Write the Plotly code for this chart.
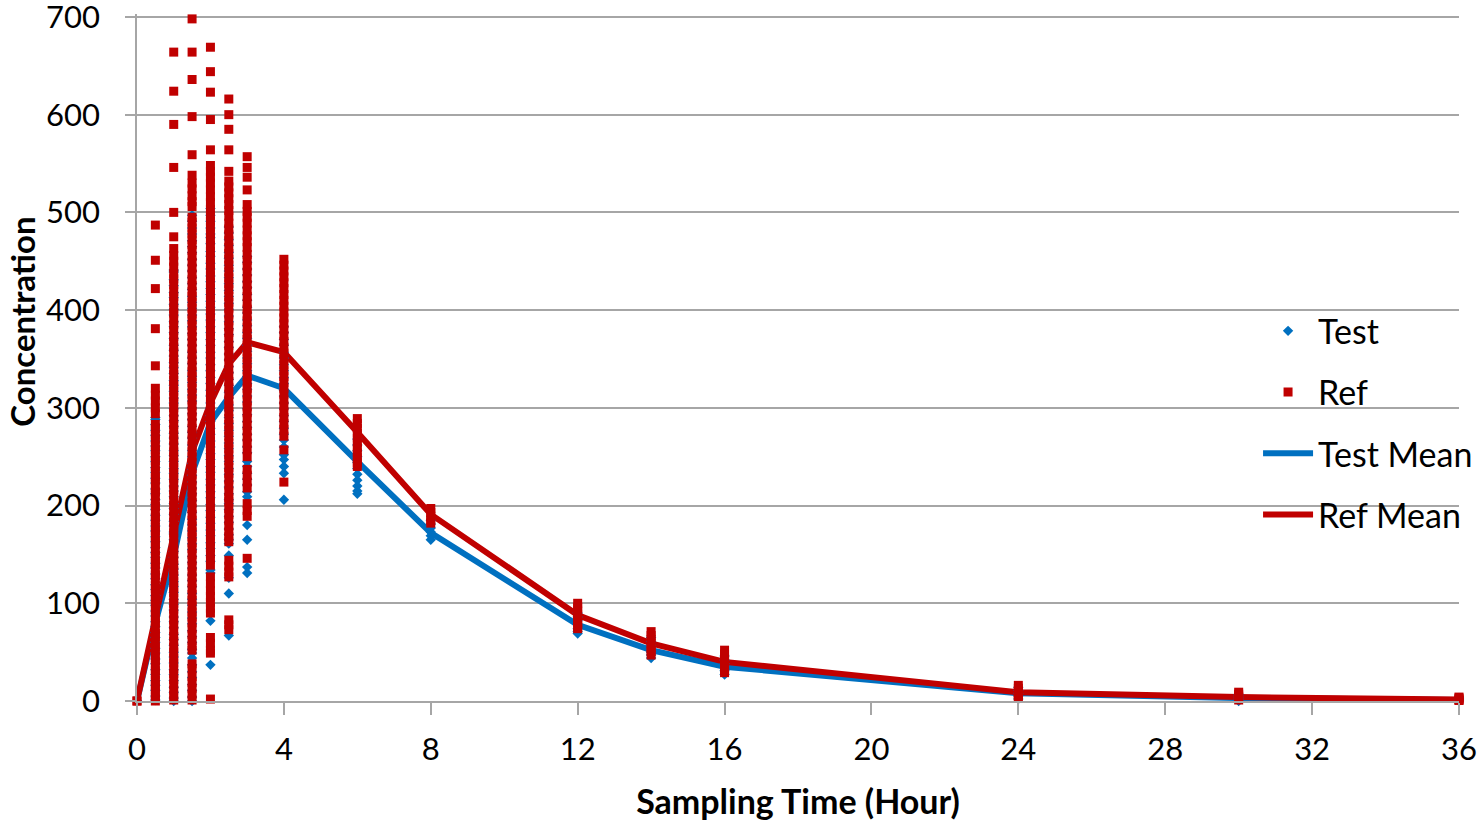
import plotly.graph_objects as go

# ---------------- data ----------------
times = [0, 0.5, 1, 1.5, 2, 2.5, 3, 4, 6, 8, 12, 14, 16, 24, 30, 36]

test_mean = [0, 80, 148, 233, 285, 311, 333, 320, 245, 172, 78, 52, 35, 8, 3, 1]
ref_mean = [0, 85, 172, 255, 305, 345, 367, 357, 275, 191, 88, 59, 40, 9, 4, 1.5]

test_h0 = [0, 0]
test_h05 = [290, 288, 283, 277, 272, 266, 261, 256, 250, 245, 239, 234, 228, 223, 217, 212, 206, 201, 196, 190,
            185, 179, 174, 168, 163, 157, 152, 147, 141, 136, 130, 125, 119, 114, 108, 103, 98, 92, 87, 81,
            76, 70, 65, 60, 54, 49, 43, 38, 32, 27, 21, 16, 11, 5, 1]
test_h1 = [441, 439, 431, 425, 418, 413, 406, 401, 395, 388, 383, 377, 371, 364, 359, 353, 346, 341, 335, 328,
           323, 317, 310, 305, 299, 292, 287, 281, 274, 269, 263, 256, 251, 245, 238, 233, 227, 220, 215, 209,
           202, 197, 191, 184, 179, 173, 171, 165, 158, 153, 147, 140, 135, 129, 122, 117, 111, 104, 99, 93,
           86, 81, 75, 68, 63, 57, 50, 45, 39, 32, 27, 21, 14, 9, 3, 0]
test_h15 = [497, 491, 484, 478, 471, 465, 459, 452, 446, 440, 433, 427, 421, 414, 408, 402, 395, 389, 383, 376,
            370, 364, 357, 351, 345, 338, 332, 326, 319, 313, 307, 300, 294, 288, 281, 275, 269, 262, 256, 250,
            243, 237, 231, 224, 218, 212, 205, 199, 193, 186, 180, 174, 167, 161, 155, 148, 142, 136, 129, 123,
            117, 110, 104, 98, 91, 85, 79, 72, 66, 60, 53, 49, 44, 37, 30, 24, 17, 11, 4, 0]
test_h2 = [504, 497, 491, 484, 478, 474, 468, 460, 455, 448, 442, 435, 429, 422, 416, 409, 403, 396, 390, 383,
           377, 370, 364, 357, 351, 344, 338, 331, 325, 318, 312, 305, 299, 292, 286, 279, 273, 266, 260, 253,
           247, 240, 234, 227, 221, 214, 208, 201, 195, 188, 182, 175, 169, 162, 156, 149, 143, 134, 131, 82, 37]
test_h25 = [485, 479, 472, 466, 459, 453, 446, 440, 433, 427, 420, 414, 407, 401, 394, 388, 381, 375, 368, 362,
            355, 349, 342, 336, 329, 323, 316, 310, 303, 297, 290, 284, 277, 271, 264, 258, 251, 245, 238, 232,
            225, 219, 212, 206, 202, 196, 189, 183, 176, 170, 165, 161, 149, 126, 110, 67]
test_h3 = [455, 449, 442, 436, 429, 423, 416, 410, 403, 397, 390, 384, 377, 371, 364, 358, 351, 345, 338, 332,
           325, 319, 312, 306, 299, 293, 286, 280, 273, 267, 260, 254, 245, 240, 233, 227, 221, 214, 209, 180,
           165, 137, 131]
test_h4 = [383, 377, 370, 364, 357, 351, 344, 338, 331, 325, 318, 312, 305, 299, 292, 286, 279, 273, 267, 260,
           252, 247, 240, 233, 206]
test_h6 = [268, 262, 256, 250, 244, 238, 232, 226, 220, 215, 212]
test_h8 = [185, 181, 177, 173, 169, 165]
test_h12 = [90, 86, 82, 78, 74, 71, 69]
test_h14 = [65, 61, 57, 53, 50, 47, 44]
test_h16 = [46, 42, 38, 34, 31, 27]
test_h24 = [14, 11, 8, 5, 2]
test_h30 = [7, 5, 3, 1, 0]
test_h36 = [3, 2, 1, 0]

ref_h0 = [0, 0]
ref_h05 = [487, 451, 422, 381, 343, 320, 313, 307, 300, 294, 283, 279, 272, 268, 261, 257, 250, 246, 240, 235,
           229, 226, 219, 214, 210, 203, 199, 194, 188, 185, 178, 174, 169, 163, 160, 154, 149, 143, 140, 134,
           129, 125, 118, 115, 109, 104, 100, 94, 90, 84, 80, 75, 69, 66, 60, 55, 51, 45, 41, 36,
           31, 27, 21, 17, 12, 8, 3, 0]
ref_h1 = [664, 624, 590, 546, 500, 475, 463, 456, 450, 444, 437, 432, 426, 419, 414, 408, 401, 397, 390, 385,
          379, 373, 368, 362, 357, 350, 346, 339, 334, 328, 323, 317, 311, 306, 300, 295, 289, 283, 278, 272,
          267, 261, 255, 250, 244, 239, 233, 228, 222, 216, 211, 205, 200, 194, 189, 183, 177, 172, 167, 161,
          155, 150, 144, 139, 133, 128, 122, 116, 111, 105, 100, 94, 89, 83, 78, 72, 66, 61, 55, 50,
          44, 39, 33, 28, 22, 17, 11, 6, 1]
ref_h15 = [698, 664, 636, 598, 559, 538, 530, 524, 517, 511, 506, 495, 490, 484, 478, 472, 467, 461, 455, 449,
           443, 437, 431, 425, 419, 414, 408, 402, 396, 390, 384, 378, 373, 367, 361, 355, 349, 343, 337, 332,
           326, 320, 314, 308, 302, 296, 291, 285, 279, 273, 267, 261, 255, 250, 244, 238, 232, 226, 220, 214,
           209, 203, 197, 191, 185, 179, 173, 168, 162, 156, 150, 144, 138, 132, 127, 121, 115, 109, 103, 97,
           91, 86, 80, 74, 68, 62, 56, 52, 38, 33, 25, 19, 13, 7, 1]
ref_h2 = [669, 644, 623, 595, 564, 548, 542, 536, 530, 523, 516, 510, 503, 497, 491, 485, 478, 472, 466, 460,
          453, 447, 441, 435, 428, 422, 416, 410, 403, 397, 391, 385, 378, 372, 366, 360, 353, 347, 341, 335,
          328, 322, 316, 310, 303, 297, 291, 285, 278, 272, 266, 260, 253, 247, 241, 235, 228, 222, 216, 210,
          203, 197, 191, 187, 181, 175, 169, 163, 157, 151, 145, 139, 127, 120, 113, 107, 101, 95, 90, 65,
          59, 52, 49, 2]
ref_h25 = [616, 600, 585, 564, 542, 532, 526, 520, 514, 508, 502, 496, 489, 483, 477, 471, 464, 458, 452, 446,
           439, 433, 427, 421, 414, 408, 402, 396, 389, 383, 377, 371, 364, 358, 352, 346, 339, 333, 327, 321,
           314, 308, 302, 296, 289, 283, 277, 271, 264, 258, 252, 246, 239, 233, 227, 221, 214, 208, 204, 197,
           191, 185, 179, 173, 168, 163, 144, 138, 132, 127, 83, 78, 73]
ref_h3 = [557, 546, 536, 523, 508, 501, 495, 489, 482, 476, 470, 464, 457, 451, 445, 439, 432, 426, 420, 414,
          407, 401, 395, 389, 382, 376, 370, 364, 357, 351, 345, 339, 332, 326, 320, 314, 307, 301, 295, 289,
          282, 276, 270, 264, 257, 250, 237, 231, 224, 218, 202, 195, 189, 146]
ref_h4 = [452, 446, 440, 434, 428, 422, 416, 410, 404, 398, 392, 386, 380, 374, 368, 362, 356, 350, 344, 338,
          332, 326, 320, 314, 308, 302, 296, 290, 284, 278, 271, 257, 224]
ref_h6 = [289, 284, 279, 274, 269, 264, 259, 254, 249, 244, 240]
ref_h8 = [197, 193, 189, 185, 182]
ref_h12 = [100, 96, 92, 88, 84, 80, 76, 74]
ref_h14 = [71, 67, 63, 59, 55, 51, 47]
ref_h16 = [52, 48, 44, 40, 36, 32, 29]
ref_h24 = [16, 13, 10, 7, 5, 3]
ref_h30 = [9, 7, 5, 3, 1]
ref_h36 = [4, 3, 2, 1, 0.5]

x_ticks = [0, 4, 8, 12, 16, 20, 24, 28, 32, 36]
y_ticks = [0, 100, 200, 300, 400, 500, 600, 700]

test_cols = [test_h0, test_h05, test_h1, test_h15, test_h2, test_h25, test_h3, test_h4, test_h6,
             test_h8, test_h12, test_h14, test_h16, test_h24, test_h30, test_h36]
ref_cols = [ref_h0, ref_h05, ref_h1, ref_h15, ref_h2, ref_h25, ref_h3, ref_h4, ref_h6,
            ref_h8, ref_h12, ref_h14, ref_h16, ref_h24, ref_h30, ref_h36]

def flatten(cols):
    xs, ys = [], []
    for t, vals in zip(times, cols):
        xs.extend([t] * len(vals))
        ys.extend(vals)
    return xs, ys

tx, ty = flatten(test_cols)
rx, ry = flatten(ref_cols)

BLUE = "#0070C0"
RED = "#C00000"
GRID = "#A6A6A6"
FONT = "Lato"

fig = go.Figure()
fig.add_trace(go.Scatter(x=times, y=test_mean, mode="lines", name="Test Mean",
                         line=dict(color=BLUE, width=6), legendgroup="c", legendrank=3, cliponaxis=False))
fig.add_trace(go.Scatter(x=times, y=ref_mean, mode="lines", name="Ref Mean",
                         line=dict(color=RED, width=6), legendgroup="d", legendrank=4, cliponaxis=False))
fig.add_trace(go.Scatter(x=tx, y=ty, mode="markers", name="Test",
                         marker=dict(symbol="diamond", size=8, color=BLUE),
                         legendgroup="a", legendrank=1, cliponaxis=False))
fig.add_trace(go.Scatter(x=rx, y=ry, mode="markers", name="Ref",
                         marker=dict(symbol="square", size=9, color=RED),
                         legendgroup="b", legendrank=2, cliponaxis=False))

fig.update_layout(
    width=1480, height=822,
    margin=dict(l=137, r=21, t=14, b=121, autoexpand=False),
    paper_bgcolor="white", plot_bgcolor="white",
    font=dict(family=FONT, size=31, color="black"),
    showlegend=True,
    legend=dict(x=0.848, xanchor="left", y=0.405, yanchor="middle",
                bgcolor="rgba(0,0,0,0)", font=dict(size=34, family=FONT),
                tracegroupgap=14, itemwidth=50),
    annotations=[dict(text="<b>Concentration</b>", textangle=-90, showarrow=False,
                      xref="paper", yref="paper", x=-0.087, y=0.552,
                      xanchor="center", yanchor="middle",
                      font=dict(size=33, family=FONT, color="black"))],
)
fig.update_xaxes(range=[0, 36], tickvals=x_ticks, showgrid=False, automargin=False,
                 showline=True, linecolor=GRID, linewidth=1.5,
                 ticks="outside", ticklen=12, tickcolor=GRID, tickwidth=1.5,
                 ticklabelstandoff=8, zeroline=False, ticklabeloverflow="allow",
                 title=dict(text="<b>Sampling Time (Hour)</b>", font=dict(size=34, family=FONT), standoff=24))
fig.update_yaxes(range=[0, 703], tickvals=y_ticks, showgrid=True, gridcolor=GRID, gridwidth=1.5,
                 automargin=False,
                 showline=True, linecolor=GRID, linewidth=1.5,
                 ticks="outside", ticklen=10, tickcolor=GRID, tickwidth=1.5,
                 ticklabelstandoff=19, zeroline=False, ticklabeloverflow="allow")

fig.write_html("out.html", config={"displayModeBar": False},
               post_script="document.body.style.margin='0';")
